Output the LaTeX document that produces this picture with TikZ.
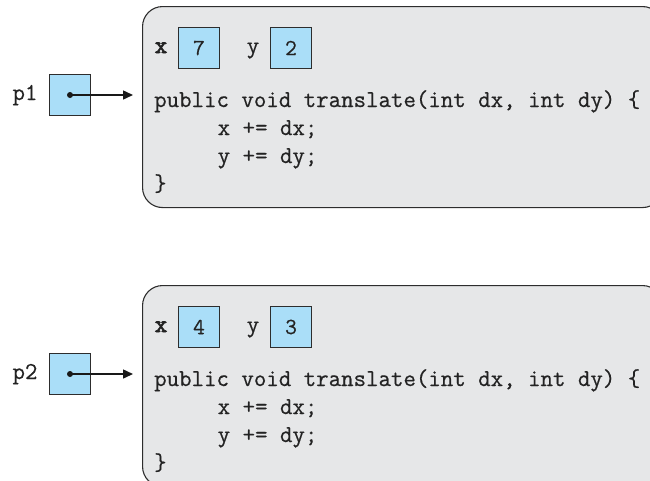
\documentclass[tikz,border=0pt]{standalone}
\usepackage{fontspec}
\usetikzlibrary{arrows.meta}
\newfontfamily\codett{Latin Modern Mono}[FakeBold=0.6]
\newfontfamily\boldtt{Latin Modern Mono}[FakeBold=3]
\definecolor{cellblue}{RGB}{170,222,248}
\definecolor{panelgray}{RGB}{230,231,232}
\definecolor{edgegray}{RGB}{45,45,45}
\definecolor{inkgray}{RGB}{35,35,35}
\newcommand{\codefont}{\fontsize{24.2}{28}\selectfont\codett}
\newcommand{\boldfont}{\fontsize{24.2}{28}\selectfont\boldtt}
\newcommand{\numfont}{\fontsize{23}{26}\selectfont\codett}
\begin{document}
\begin{tikzpicture}[x=1pt,y=-1pt,
  panel/.style={draw=edgegray, fill=panelgray, line width=1.1pt, rounded corners=20pt,
    minimum width=520pt, minimum height=201pt, inner sep=0pt, anchor=north west},
  cell/.style={draw=edgegray, fill=cellblue, line width=1.1pt, minimum width=41pt,
    minimum height=41pt, inner sep=0pt, font=\numfont, text=inkgray},
  codeline/.style={anchor=base west, inner sep=0pt, font=\codefont, text=inkgray},
  lbl/.style={anchor=base, inner sep=0pt, font=\codefont, text=inkgray},
  ptr/.style={line width=1.5pt, draw=black!90, -{Triangle[length=10pt,width=9pt]}}
]
\clip (0,0) rectangle (650,480);
\useasboundingbox (0,0) rectangle (650,480);

% ---------- object 1 ----------
\node[panel] (obj1) at (142,6) {};
\node[cell] (p1) at (70,95) {};
\node[lbl] (p1lbl) at (25,100) {p1};
\coordinate (tip1) at (133,95);
\draw[ptr] (p1.center) -- (tip1);
\fill[black!90] (p1.center) circle (3pt);

\node[lbl, font=\boldfont] (x1lbl) at (161,53) {x};
\node[cell] (x1) at (199,48) {7};
\node[lbl] (y1lbl) at (253,53) {y};
\node[cell] (y1) at (291,48) {2};

\node[codeline] (c1a) at (154,107) {public void translate(int dx, int dy) \{};
\node[codeline] (c1b) at (217.5,135) {x += dx;};
\node[codeline] (c1c) at (217.5,163) {y += dy;};
\node[codeline] (c1d) at (154,191) {\}};

% ---------- object 2 ----------
\node[panel] (obj2) at (142,285) {};
\node[cell] (p2) at (70,374) {};
\node[lbl] (p2lbl) at (25,379) {p2};
\coordinate (tip2) at (133,374);
\draw[ptr] (p2.center) -- (tip2);
\fill[black!90] (p2.center) circle (3pt);

\node[lbl, font=\boldfont] (x2lbl) at (161,332) {x};
\node[cell] (x2) at (199,327) {4};
\node[lbl] (y2lbl) at (253,332) {y};
\node[cell] (y2) at (291,327) {3};

\node[codeline] (c2a) at (154,386) {public void translate(int dx, int dy) \{};
\node[codeline] (c2b) at (217.5,414) {x += dx;};
\node[codeline] (c2c) at (217.5,442) {y += dy;};
\node[codeline] (c2d) at (154,470) {\}};
\end{tikzpicture}
\end{document}
